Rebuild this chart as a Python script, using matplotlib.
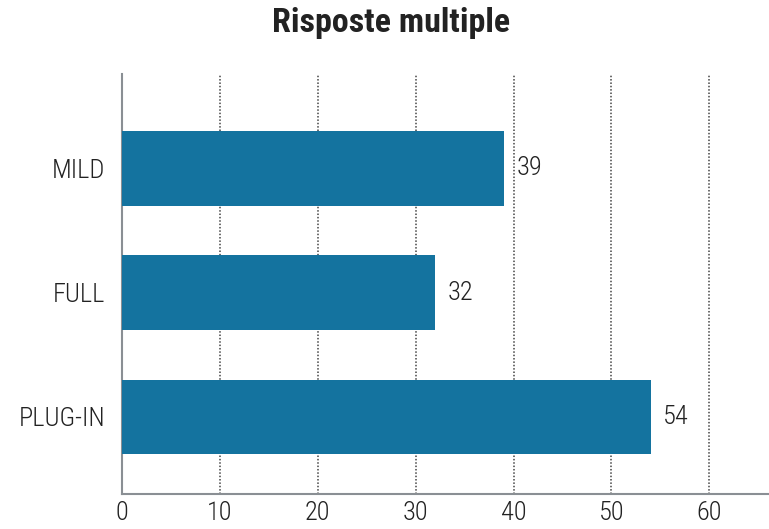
import matplotlib
matplotlib.use("Agg")
import matplotlib.pyplot as plt

categories = ["PLUG-IN", "FULL", "MILD"]
values = [54, 32, 39]
xticks = [0, 10, 20, 30, 40, 50, 60]

plt.rcParams["font.family"] = ["Roboto Condensed", "Liberation Sans Narrow", "DejaVu Sans"]
plt.rcParams["font.weight"] = 300

bar_color = "#14739f"
text_color = "#222222"

fig = plt.figure(figsize=(7.69, 5.29), dpi=100)
ax = fig.add_axes([0.1586, 0.0662, 0.8401, 0.7938])

y = range(len(categories))
bars = ax.barh(y, values, height=0.6, color=bar_color, zorder=3)

for bar, val in zip(bars, values):
    ax.annotate(f"{val}", (bar.get_width(), bar.get_y() + bar.get_height() / 2),
                xytext=(9, 0), textcoords="offset points", va="center", ha="left",
                fontsize=19, color=text_color, zorder=4)

ax.set_xlim(0, 66)
ax.set_ylim(-0.62, 2.76)
ax.set_xticks(xticks)
ax.set_yticks(list(y))
ax.set_yticklabels(categories)
ax.tick_params(axis="both", length=0, labelsize=19, colors=text_color)
ax.tick_params(axis="y", pad=12)
ax.tick_params(axis="x", pad=5)

ax.grid(axis="x", linestyle=(0, (1, 1.2)), color="#444444", linewidth=1.1, zorder=1)
ax.grid(axis="y", visible=False)
for side in ["top", "right"]:
    ax.spines[side].set_visible(False)
for side in ["left", "bottom"]:
    ax.spines[side].set_color("#8a8f94")
    ax.spines[side].set_linewidth(1.5)

fig.text(0.508, 0.956, "Risposte multiple", ha="center", va="center",
         fontsize=24.5, fontweight="bold", color=text_color)

fig.savefig("out.png", dpi=100)
